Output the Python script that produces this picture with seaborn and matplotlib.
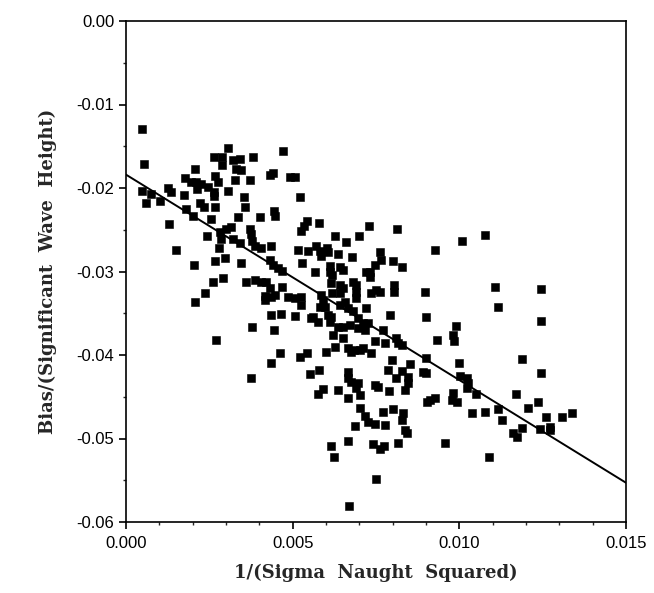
import numpy as np
import pandas as pd
import matplotlib
matplotlib.use("Agg")
import matplotlib.pyplot as plt
from matplotlib.ticker import MultipleLocator, FormatStrFormatter
import seaborn as sns

# ---- data ----
x_left = [0.00049,0.00053,0.00049,0.00076,0.00061,0.00101,0.00126,0.00136,0.00128,0.00151,
          0.00174,0.00178,0.00181,0.00201,0.00204,0.00206,0.00206,0.00196,0.00209,0.00214,
          0.00226,0.00221,0.00234,0.00246,0.00236,0.00244,0.00256,0.00261,0.00264,0.00266,
          0.00263,0.00264,0.00266,0.00266,0.00276,0.00281,0.00284,0.00278,0.00288,0.00288,
          0.00291,0.00298,0.00306,0.00306,0.00301,0.00316,0.00321,0.00341,0.00331,0.00346,
          0.00328,0.00321,0.00336,0.00341,0.00344,0.00353,0.00356,0.00359,0.00373,0.00371,
          0.00376,0.00379,0.00381,0.00386,0.00401,0.00386,0.00404,0.00406,0.00416,0.00431,
          0.00441,0.00436,0.00431,0.00441,0.00444,0.00448,0.00431,0.00421,0.00436,0.00446,
          0.00436,0.00457,0.00467,0.00467,0.00417]
y_left = [-0.0129,-0.0171,-0.0203,-0.0207,-0.0218,-0.0216,-0.0200,-0.0205,-0.0243,-0.0274,
          -0.0208,-0.0188,-0.0225,-0.0233,-0.0292,-0.0336,-0.0177,-0.0193,-0.0193,-0.0201,
          -0.0195,-0.0218,-0.0223,-0.0199,-0.0326,-0.0258,-0.0237,-0.0312,-0.0163,-0.0186,
          -0.0205,-0.0209,-0.0223,-0.0288,-0.0193,-0.0253,-0.0261,-0.0272,-0.0163,-0.0173,
          -0.0308,-0.0284,-0.0152,-0.0203,-0.0249,-0.0247,-0.0166,-0.0165,-0.0177,-0.0178,
          -0.0191,-0.0261,-0.0235,-0.0266,-0.0290,-0.0211,-0.0223,-0.0312,-0.0191,-0.0249,
          -0.0255,-0.0264,-0.0163,-0.0310,-0.0235,-0.0269,-0.0272,-0.0312,-0.0334,-0.0184,
          -0.0182,-0.0269,-0.0286,-0.0292,-0.0227,-0.0233,-0.0320,-0.0312,-0.0330,-0.0328,
          -0.0352,-0.0296,-0.0299,-0.0318,-0.0329]

x_mid_upper = [0.00471,0.00491,0.00506,0.00521,0.00544,0.00526,0.00534,0.00578,0.00628,0.00659,
               0.00698,0.00728,0.00814,0.00926,0.00516,0.00546,0.00571,0.00581,0.00586,0.00604,
               0.00607,0.00636,0.00678,0.00528,0.00566,0.00611,0.00611,0.00641,0.00651,0.00618,
               0.00761,0.00766,0.00746,0.00731,0.00721,0.00731,0.00801,0.00828,0.00616,0.00641,
               0.00651,0.00681,0.00691,0.00691,0.00691,0.00751,0.00736,0.00761,0.00804,0.00804,
               0.00896,0.00486,0.00506,0.00526,0.00526,0.00586,0.00591,0.00596,0.00581,0.00618,
               0.00641,0.00641,0.00656,0.00666,0.00681,0.00721,0.00606,0.00616,0.00556,0.00791,
               0.00901,0.00696,0.00464,0.00506,0.00562,0.00577,0.00612,0.00636,0.00651,0.00671,
               0.00696,0.00718,0.00726,0.00711]
y_mid_upper = [-0.0156,-0.0187,-0.0187,-0.0211,-0.0239,-0.0251,-0.0245,-0.0242,-0.0257,-0.0265,
               -0.0257,-0.0246,-0.0249,-0.0274,-0.0274,-0.0275,-0.0269,-0.0276,-0.0282,-0.0272,
               -0.0277,-0.0279,-0.0283,-0.0290,-0.0300,-0.0294,-0.0300,-0.0295,-0.0298,-0.0304,
               -0.0277,-0.0286,-0.0292,-0.0300,-0.0301,-0.0306,-0.0288,-0.0295,-0.0314,-0.0316,
               -0.0320,-0.0312,-0.0316,-0.0324,-0.0332,-0.0322,-0.0326,-0.0325,-0.0316,-0.0325,
               -0.0324,-0.0330,-0.0332,-0.0330,-0.0340,-0.0328,-0.0334,-0.0342,-0.0342,-0.0326,
               -0.0326,-0.0340,-0.0336,-0.0344,-0.0347,-0.0344,-0.0352,-0.0354,-0.0356,-0.0352,
               -0.0354,-0.0356,-0.0351,-0.0353,-0.0355,-0.0361,-0.0361,-0.0367,-0.0366,-0.0364,
               -0.0368,-0.0370,-0.0362,-0.0362]

x_right = [0.01008,0.01076,0.01106,0.01246,0.01116,0.01246,0.00990,0.00932,0.00982,0.00984,
           0.00827,0.00900,0.01000,0.00852,0.00827,0.00892,0.00900,0.01002,0.01022,0.01027,
           0.01023,0.00847,0.00847,0.00837,0.01050,0.01187,0.01244,0.01170,0.00980,0.00977,
           0.00992,0.00912,0.00927,0.00902,0.01237,0.01037,0.01077,0.01115,0.01205,0.00832,
           0.00827,0.01127,0.01259,0.01307,0.01337,0.00837,0.00842,0.01162,0.01173,0.01187,
           0.01242,0.01272,0.01272,0.01088,0.00956]
y_right = [-0.0263,-0.0256,-0.0319,-0.0321,-0.0343,-0.0359,-0.0365,-0.0382,-0.0376,-0.0383,
           -0.0388,-0.0404,-0.0410,-0.0411,-0.0419,-0.0420,-0.0422,-0.0425,-0.0427,-0.0433,
           -0.0440,-0.0426,-0.0434,-0.0442,-0.0447,-0.0405,-0.0421,-0.0447,-0.0446,-0.0454,
           -0.0456,-0.0454,-0.0452,-0.0456,-0.0456,-0.0469,-0.0468,-0.0465,-0.0464,-0.0469,
           -0.0478,-0.0478,-0.0474,-0.0474,-0.0470,-0.0490,-0.0494,-0.0493,-0.0498,-0.0488,
           -0.0489,-0.0486,-0.0490,-0.0522,-0.0505]

x_mid_lower = [0.00461,0.00521,0.00544,0.00551,0.00578,0.00601,0.00628,0.00621,0.00651,0.00666,
               0.00676,0.00684,0.00701,0.00711,0.00734,0.00666,0.00666,0.00676,0.00696,0.00691,
               0.00701,0.00591,0.00576,0.00636,0.00666,0.00746,0.00756,0.00701,0.00718,0.00726,
               0.00746,0.00688,0.00666,0.00616,0.00624,0.00749,0.00669,0.00741,0.00761,0.00774,
               0.00776,0.00771,0.00801,0.00816,0.00789,0.00811,0.00786,0.00797,0.00771,0.00748,
               0.00776,0.00811,0.00816,0.00271,0.00378,0.00443,0.00434,0.00376]
y_mid_lower = [-0.0398,-0.0402,-0.0398,-0.0423,-0.0418,-0.0396,-0.0390,-0.0376,-0.0380,-0.0392,
               -0.0396,-0.0394,-0.0394,-0.0392,-0.0398,-0.0420,-0.0428,-0.0432,-0.0434,-0.0440,
               -0.0448,-0.0441,-0.0447,-0.0442,-0.0451,-0.0436,-0.0438,-0.0464,-0.0473,-0.0480,
               -0.0483,-0.0485,-0.0503,-0.0509,-0.0522,-0.0549,-0.0581,-0.0507,-0.0512,-0.0509,
               -0.0484,-0.0468,-0.0465,-0.0505,-0.0443,-0.0428,-0.0418,-0.0406,-0.0370,-0.0383,
               -0.0386,-0.0380,-0.0386,-0.0382,-0.0366,-0.0370,-0.0410,-0.0427]

fit_x = [0.0, 0.015]
fit_y = [-0.0184, -0.0553]

x_ticks = [0.000, 0.005, 0.010, 0.015]
y_ticks = [0.00, -0.01, -0.02, -0.03, -0.04, -0.05, -0.06]

df = pd.DataFrame({
    "x": x_left + x_mid_upper + x_right + x_mid_lower,
    "y": y_left + y_mid_upper + y_right + y_mid_lower,
})
fit = pd.DataFrame({"x": fit_x, "y": fit_y})

# ---- style ----
sns.set_style("ticks")
plt.rcParams["font.family"] = ["Liberation Sans", "DejaVu Sans"]
plt.rcParams["axes.unicode_minus"] = False

fig = plt.figure(figsize=(6.54, 5.93), dpi=100)
ax = fig.add_axes([126/654, 1 - 522/593, 500/654, 501/593])

sns.scatterplot(data=df, x="x", y="y", marker="s", s=30, color="black",
                edgecolor="black", linewidth=0.4, ax=ax, legend=False, zorder=3)
sns.lineplot(data=fit, x="x", y="y", color="black", linewidth=1.4, ax=ax,
             legend=False, zorder=2)

ax.set_xlim(0.0, 0.015)
ax.set_ylim(-0.06, 0.0)
ax.set_xticks(x_ticks)
ax.set_yticks(y_ticks)
ax.xaxis.set_major_formatter(FormatStrFormatter("%.3f"))
ax.yaxis.set_major_formatter(FormatStrFormatter("%.2f"))
ax.xaxis.set_minor_locator(MultipleLocator(0.001))
ax.yaxis.set_minor_locator(MultipleLocator(0.005))
ax.tick_params(axis="both", which="major", direction="out", length=5, width=1.2,
               labelsize=12, colors="black")
ax.tick_params(axis="x", which="major", pad=5)
ax.tick_params(axis="both", which="minor", direction="out", length=2.5, width=1.0)

for sp in ax.spines.values():
    sp.set_visible(True)
    sp.set_color("black")
    sp.set_linewidth(1.2)

serif = ["DejaVu Serif", "Liberation Serif"]
ax.set_xlabel("1/(Sigma  Naught  Squared)", fontsize=13, fontweight="bold",
              family=serif, labelpad=9)
ax.set_ylabel("Bias/(Significant  Wave  Height)", fontsize=13, fontweight="bold",
              family=serif, labelpad=14)

fig.savefig("out.png", dpi=100, facecolor="white")
